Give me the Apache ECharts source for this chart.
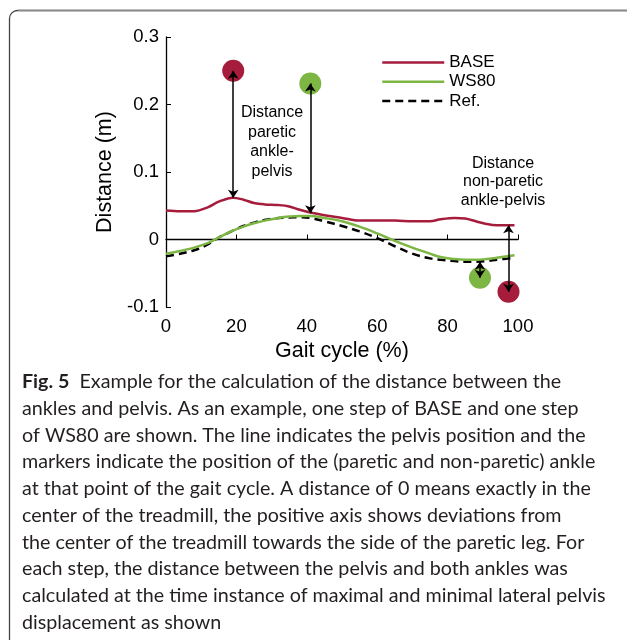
<!DOCTYPE html>
<html>
<head>
<meta charset="utf-8">
<script src="https://cdn.jsdelivr.net/npm/echarts@6/dist/echarts.min.js"></script>
<style>
html, body { margin: 0; padding: 0; background: #fff; }
#chart { width: 627px; height: 640px; }
</style>
</head>
<body>
<div id="chart"></div>
<script>
// gait cycle (%) sample points, shared by the three pelvis curves
const gaitX = [0, 4, 8, 12, 15, 19, 22, 25, 28, 32, 35, 38, 41, 45, 50, 55, 60, 65, 70, 75, 78, 82, 85, 88, 91, 94, 99];
const baseY = [0.043, 0.042, 0.042, 0.048, 0.056, 0.062, 0.059, 0.054, 0.052, 0.051, 0.049, 0.044, 0.040, 0.036, 0.032, 0.028, 0.028, 0.028, 0.027, 0.027, 0.030, 0.032, 0.031, 0.027, 0.023, 0.021, 0.021];
const ws80Y = [-0.021, -0.017, -0.012, -0.005, 0.003, 0.013, 0.019, 0.024, 0.028, 0.032, 0.034, 0.035, 0.035, 0.032, 0.027, 0.019, 0.009, -0.002, -0.012, -0.021, -0.026, -0.029, -0.030, -0.030, -0.029, -0.027, -0.0235];
const refY = [-0.025, -0.021, -0.016, -0.007, 0.003, 0.013, 0.020, 0.025, 0.029, 0.032, 0.0325, 0.033, 0.032, 0.027, 0.020, 0.012, 0.002, -0.010, -0.021, -0.028, -0.030, -0.032, -0.033, -0.033, -0.032, -0.030, -0.027];

// ankle markers
const baseAnkleX = [19.1, 97.3];
const baseAnkleY = [0.25, -0.0775];
const ws80AnkleX = [41, 89.2];
const ws80AnkleY = [0.231, -0.0567];

// distance arrows (x, from, to)
const arrowX = [19.1, 41, 89.2, 97.3];
const arrowFrom = [0.25, 0.231, -0.033, 0.021];
const arrowTo = [0.062, 0.039, -0.0567, -0.0775];

const xTicks = { min: 0, max: 100, step: 20 };
const yTicks = { min: -0.1, max: 0.3, step: 0.1 };

const captionLines = [
  "{b|Fig. 5}  Example for the calculation of the distance between the",
  "ankles and pelvis. As an example, one step of BASE and one step",
  "of WS80 are shown. The line indicates the pelvis position and the",
  "markers indicate the position of the (paretic and non-paretic) ankle",
  "at that point of the gait cycle. A distance of 0 means exactly in the",
  "center of the treadmill, the positive axis shows deviations from",
  "the center of the treadmill towards the side of the paretic leg. For",
  "each step, the distance between the pelvis and both ankles was",
  "calculated at the time instance of maximal and minimal lateral pelvis",
  "displacement as shown"
];

const RED = "#a51c3c";
const GREEN = "#7db643";
const FONT = "Liberation Sans";

const zip = (xs, ys) => xs.map((x, i) => [x, ys[i]]);

const chart = echarts.init(document.getElementById("chart"));

const captionGraphics = captionLines.map((t, i) => ({
  type: "text",
  left: 22,
  top: 372 + i * 26.7,
  style: {
    text: t,
    fill: "#231f20",
    font: "19.7px Lato",
    rich: { b: { fontWeight: "bold", fontSize: 19.7, fontFamily: "Lato", fill: "#231f20" } }
  }
}));

const option = {
  animation: false,
  textStyle: { fontFamily: FONT },
  grid: { left: 166, right: 109, top: 37, bottom: 333 },
  legend: {
    orient: "vertical",
    left: 381,
    top: 54,
    padding: 0,
    itemWidth: 62,
    itemHeight: 14,
    itemGap: 2.3,
    itemStyle: { opacity: 0 },
    lineStyle: { width: 2.5 },
    textStyle: { fontSize: 17, color: "#000", fontFamily: FONT },
    data: ["BASE", "WS80", "Ref."]
  },
  xAxis: {
    type: "value",
    min: xTicks.min,
    max: xTicks.max,
    interval: xTicks.step,
    name: "Gait cycle (%)",
    nameLocation: "middle",
    nameGap: 33,
    nameTextStyle: { fontSize: 21.5, color: "#000" },
    axisLine: { show: true, lineStyle: { color: "#000", width: 1.3 } },
    axisTick: { inside: true, length: 5, lineStyle: { color: "#000" } },
    axisLabel: { fontSize: 18.5, color: "#000", margin: 10 },
    splitLine: { show: false }
  },
  yAxis: {
    type: "value",
    min: yTicks.min,
    max: yTicks.max,
    interval: yTicks.step,
    name: "Distance (m)",
    nameLocation: "middle",
    nameGap: 45,
    nameTextStyle: { fontSize: 21.5, color: "#000" },
    axisLine: { show: true, lineStyle: { color: "#000", width: 1.3 } },
    axisTick: { inside: true, length: 5, lineStyle: { color: "#000" } },
    axisLabel: { fontSize: 18.5, color: "#000", margin: 7, formatter: (v) => String(+v.toFixed(1)) },
    splitLine: { show: false }
  },
  series: [
    {
      name: "BASE",
      type: "line",
      data: zip(gaitX, baseY),
      smooth: 0.35,
      symbol: "none",
      lineStyle: { color: RED, width: 2.5 },
      itemStyle: { color: RED },
      z: 2
    },
    {
      name: "WS80",
      type: "line",
      data: zip(gaitX, ws80Y),
      smooth: 0.35,
      symbol: "none",
      lineStyle: { color: GREEN, width: 2.5 },
      itemStyle: { color: GREEN },
      z: 3
    },
    {
      name: "Ref.",
      type: "line",
      data: zip(gaitX, refY),
      smooth: 0.35,
      symbol: "none",
      lineStyle: { color: "#000", width: 2.5, type: [8, 5] },
      itemStyle: { color: "#000" },
      z: 2
    },
    {
      type: "scatter",
      data: zip(baseAnkleX, baseAnkleY),
      symbolSize: 22,
      itemStyle: { color: RED, opacity: 1 },
      z: 4
    },
    {
      type: "scatter",
      data: zip(ws80AnkleX, ws80AnkleY),
      symbolSize: 22,
      itemStyle: { color: GREEN, opacity: 1 },
      z: 4
    },
    {
      type: "lines",
      coordinateSystem: "cartesian2d",
      data: arrowX.map((x, i) => ({ coords: [[x, arrowFrom[i]], [x, arrowTo[i]]] })),
      symbol: ["arrow", "arrow"],
      symbolSize: 8,
      lineStyle: { color: "#000", width: 1.5, opacity: 1, curveness: 0 },
      z: 5
    }
  ],
  graphic: [
    {
      type: "rect",
      shape: { x: 9.5, y: 10.5, width: 800, height: 800, r: 8 },
      style: { fill: "none", stroke: "#444", lineWidth: 1.3 },
      silent: true
    },
    {
      type: "line",
      shape: { x1: 18, y1: 10.5, x2: 627, y2: 10.5 },
      style: { stroke: "#8a8a8a", lineWidth: 1.5 },
      silent: true
    },
    {
      type: "text",
      x: 272,
      y: 103,
      style: { text: "Distance\nparetic\nankle-\npelvis", align: "center", font: "16px Liberation Sans", lineHeight: 19.5, fill: "#000" }
    },
    {
      type: "text",
      x: 503,
      y: 154,
      style: { text: "Distance\nnon-paretic\nankle-pelvis", align: "center", font: "16px Liberation Sans", lineHeight: 18.5, fill: "#000" }
    }
  ].concat(captionGraphics)
};

chart.setOption(option);
window.addEventListener("resize", () => {
  chart.resize();
});
</script>
</body>
</html>
